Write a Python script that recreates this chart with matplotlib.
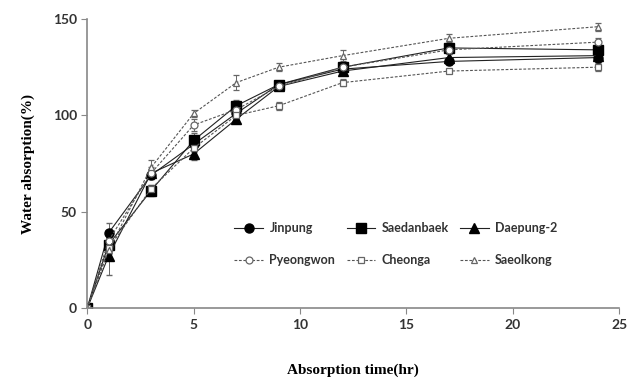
import matplotlib.pyplot as plt
from matplotlib.lines import Line2D

plt.rcParams['font.family'] = ['Lato', 'DejaVu Sans']

# 吸水時間(hr)
hours = [0, 1, 3, 5, 7, 9, 12, 17, 24]

# 各品種の吸水率(%)
jinpung = [0, 39, 69, 85, 101, 116, 124, 128, 130]
saedanbaek = [0, 33, 61, 87, 105, 116, 125, 135, 134]
daepung2 = [0, 27, 70, 80, 98, 115, 123, 130, 131]
pyeongwon = [0, 35, 70, 95, 103, 115, 125, 134, 138]
cheonga = [0, 31, 62, 83, 100, 105, 117, 123, 125]
saeolkong = [0, 30, 73, 101, 117, 125, 131, 140, 146]

# 標準偏差(目測)
jinpung_err = [0, 5, 2, 3, 2, 2, 2, 2, 2]
saedanbaek_err = [0, 4, 3, 4, 3, 2, 2, 2, 2]
daepung2_err = [0, 10, 3, 3, 2, 2, 2, 2, 2]
pyeongwon_err = [0, 4, 2, 3, 2, 2, 2, 2, 2]
cheonga_err = [0, 3, 2, 2, 2, 2, 2, 1, 2]
saeolkong_err = [0, 4, 4, 2, 4, 2, 3, 2, 2]

series = [
    ("Jinpung", jinpung, jinpung_err, "o", True),
    ("Saedanbaek", saedanbaek, saedanbaek_err, "s", True),
    ("Daepung-2", daepung2, daepung2_err, "^", True),
    ("Pyeongwon", pyeongwon, pyeongwon_err, "o", False),
    ("Cheonga", cheonga, cheonga_err, "s", False),
    ("Saeolkong", saeolkong, saeolkong_err, "^", False),
]

fig = plt.figure(figsize=(6.37, 3.8), dpi=100)
ax = fig.add_axes([0.137, 0.189, 0.835, 0.761])

handles = []
for name, vals, err, mk, filled in series:
    if filled:
        style = dict(marker=mk, markersize=6.5, markerfacecolor="black",
                     markeredgecolor="black", color="#222222", linestyle="-")
    else:
        style = dict(marker=mk, markersize=5, markerfacecolor="white",
                     markeredgecolor="#666666", markeredgewidth=0.9,
                     color="#555555", linestyle=(0, (2.5, 1.5)))
    ax.errorbar(hours, vals, yerr=err, linewidth=0.8, elinewidth=0.7,
                capsize=2.5, ecolor="#666666", **style)
    handles.append(Line2D([], [], linewidth=0.8, label=name, **style))

ax.set_xlim(0, 25)
ax.set_ylim(0, 150)
ax.set_xticks([0, 5, 10, 15, 20, 25])
ax.set_yticks([0, 50, 100, 150])

for s in ["top", "right"]:
    ax.spines[s].set_visible(False)
for s in ["left", "bottom"]:
    ax.spines[s].set_color("#888888")
    ax.spines[s].set_linewidth(1.2)
ax.tick_params(direction="out", length=4, color="#888888", labelsize=10,
               labelcolor="#333333")
for lab in ax.get_xticklabels() + ax.get_yticklabels():
    lab.set_fontweight("bold")

ax.set_xlabel("Absorption time(hr)", family="Liberation Serif", fontweight="bold",
              fontsize=11, labelpad=24)
ax.set_ylabel("Water absorption(%)", family="Liberation Serif", fontweight="bold",
              fontsize=11, labelpad=13)

# 凡例は行ごとに並べる(matplotlibは列方向に埋めるので並べ替え)
order = [0, 3, 1, 4, 2, 5]
leg = ax.legend([handles[i] for i in order], [series[i][0] for i in order],
                ncol=3, loc="upper left", bbox_to_anchor=(0.265, 0.318), frameon=False,
                fontsize=9, handlelength=2.3, columnspacing=0.9, labelspacing=1.6,
                handletextpad=0.5, borderpad=0)
for t in leg.get_texts():
    t.set_fontweight("bold")
    t.set_color("#333333")

plt.savefig("out.png")
